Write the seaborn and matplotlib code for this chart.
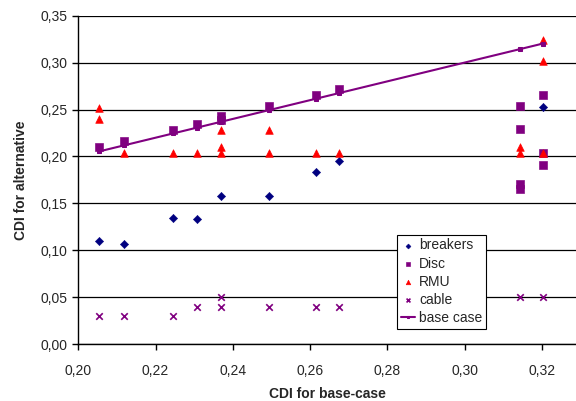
import matplotlib
matplotlib.use("Agg")
import matplotlib.pyplot as plt
import seaborn as sns
import pandas as pd
from matplotlib.ticker import FuncFormatter, MultipleLocator

# values
base_x = [0.2054, 0.2118, 0.2245, 0.2306, 0.2369, 0.2493, 0.2615, 0.2675, 0.3144, 0.3202]

breakers_x = [0.2054, 0.2118, 0.2245, 0.2306, 0.2369, 0.2493, 0.2615, 0.2675, 0.3202]
breakers_y = [0.110, 0.107, 0.135, 0.133, 0.158, 0.158, 0.183, 0.195, 0.253]

disc_x = [0.2054, 0.2118, 0.2245, 0.2306, 0.2369, 0.2369, 0.2493, 0.2615, 0.2675,
          0.3144, 0.3144, 0.3144, 0.3144, 0.3202, 0.3202, 0.3202]
disc_y = [0.210, 0.216, 0.228, 0.235, 0.239, 0.243, 0.2535, 0.265, 0.272,
          0.2535, 0.229, 0.171, 0.165, 0.2655, 0.204, 0.191]

rmu_x = [0.2054, 0.2054, 0.2118, 0.2245, 0.2306, 0.2369, 0.2369, 0.2369, 0.2493, 0.2493,
         0.2615, 0.2675, 0.3144, 0.3144, 0.3202, 0.3202, 0.3202]
rmu_y = [0.252, 0.240, 0.204, 0.204, 0.204, 0.228, 0.210, 0.204, 0.228, 0.204,
         0.204, 0.204, 0.210, 0.204, 0.324, 0.302, 0.204]

cable_x = [0.2054, 0.2118, 0.2245, 0.2306, 0.2369, 0.2369, 0.2493, 0.2615, 0.2675, 0.3144, 0.3202]
cable_y = [0.03, 0.03, 0.03, 0.04, 0.04, 0.05, 0.04, 0.04, 0.04, 0.05, 0.05]

sns.set_style("white")
plt.rcParams['font.family'] = ['Liberation Sans', 'DejaVu Sans']
plt.rcParams['font.size'] = 10

fig = plt.figure(figsize=(5.76, 4.01), dpi=100)
ax = fig.add_axes([0.136, 0.1414, 0.864, 0.8197])

sns.scatterplot(x=breakers_x, y=breakers_y, ax=ax, color='#000080', marker='D', s=18,
                edgecolor='#000080', label='breakers', zorder=3)
sns.scatterplot(x=disc_x, y=disc_y, ax=ax, color='#800080', marker='s', s=30,
                edgecolor='#800080', label='Disc', zorder=3)
sns.scatterplot(x=rmu_x, y=rmu_y, ax=ax, color='#ff0000', marker='^', s=30,
                edgecolor='#ff0000', label='RMU', zorder=3)
sns.scatterplot(x=cable_x, y=cable_y, ax=ax, color='#800080', marker='x', s=22,
                linewidth=1.2, label='cable', zorder=3)
base_df = pd.DataFrame({'x': base_x, 'y': base_x})
sns.lineplot(data=base_df, x='x', y='y', ax=ax, color='#800080', linewidth=1.5,
             marker='s', markersize=2.5, markeredgecolor='#800080', label='base case', zorder=4)

ax.set_xlim(0.20, 0.3288)
ax.set_ylim(0.0, 0.35)
ax.xaxis.set_major_locator(MultipleLocator(0.02))
ax.yaxis.set_major_locator(MultipleLocator(0.05))
fmt = FuncFormatter(lambda v, p: f"{v:.2f}".replace('.', ','))
ax.xaxis.set_major_formatter(fmt)
ax.yaxis.set_major_formatter(fmt)

ax.grid(axis='y', color='black', linewidth=0.9)
ax.set_axisbelow(True)
ax.get_ygridlines()[-1].set_color('#888888')
for side in ['top', 'right']:
    ax.spines[side].set_visible(False)
for side in ['left', 'bottom']:
    ax.spines[side].set_color('black')
    ax.spines[side].set_linewidth(1.0)
ax.tick_params(axis='both', direction='out', length=4, width=1, color='black',
               labelsize=10, left=True, bottom=True)
ax.tick_params(axis='x', pad=10.5)
ax.tick_params(axis='y', pad=4)

ax.set_xlabel('CDI for base-case', fontweight='bold', fontsize=10, labelpad=6.5)
ax.set_ylabel('CDI for alternative', fontweight='bold', fontsize=10, labelpad=9)

leg = ax.legend(loc='upper left', bbox_to_anchor=(0.690, 0.414), bbox_transform=fig.transFigure,
                frameon=True, fancybox=False, edgecolor='black', framealpha=1,
                fontsize=10, handlelength=1.0, handletextpad=0.3, labelspacing=0.3,
                borderpad=0.25, borderaxespad=0, markerscale=0.6)
leg.get_frame().set_linewidth(0.8)

fig.savefig('out.png', dpi=100)
